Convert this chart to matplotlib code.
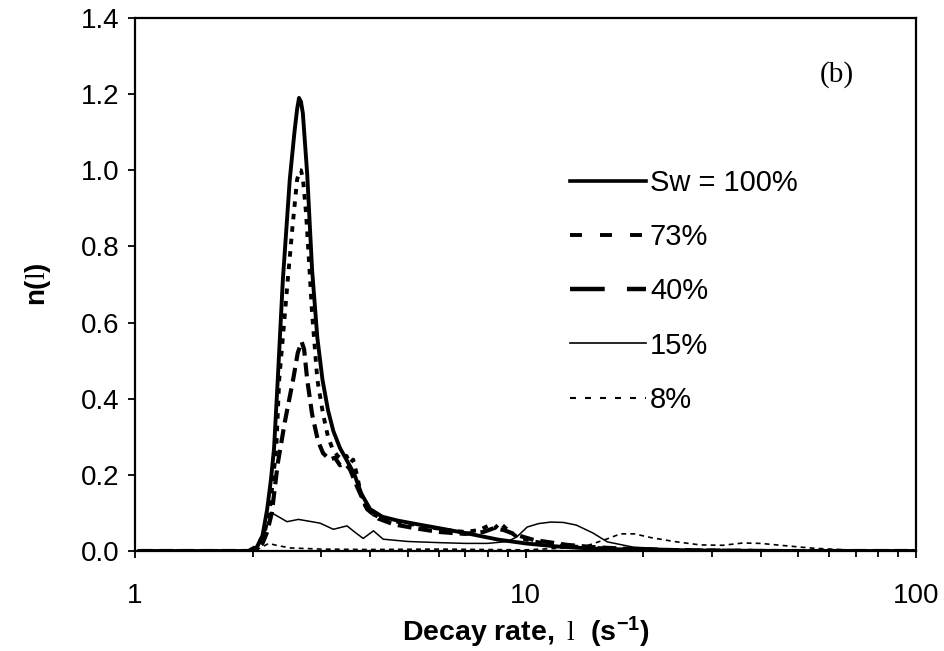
import matplotlib
matplotlib.use("Agg")
import matplotlib.pyplot as plt
from matplotlib.lines import Line2D
from matplotlib.ticker import FixedLocator, FixedFormatter, LogLocator, NullFormatter

plt.rcParams['font.family'] = ['Liberation Sans', 'DejaVu Sans']
plt.rcParams['mathtext.fontset'] = 'custom'
plt.rcParams['mathtext.rm'] = 'Liberation Serif'
plt.rcParams['mathtext.bf'] = 'Liberation Sans:bold'
plt.rcParams['mathtext.it'] = 'Liberation Sans:italic'
plt.rcParams['lines.scale_dashes'] = False

# ---------------- data ----------------
sw100_x = [1.02, 1.5, 1.95, 2.05, 2.12, 2.18, 2.23, 2.27, 2.32, 2.39, 2.49, 2.56, 2.60, 2.63, 2.66,
           2.69, 2.76, 2.84, 2.93, 3.02, 3.12, 3.22, 3.35, 3.5, 3.65, 3.8, 4.0, 4.3, 4.7, 5.3, 6.0,
           7.2, 8.5, 10.0, 12.0, 15.0, 20.0, 30.0, 50.0, 100.0]
sw100_y = [0, 0, 0, 0.01, 0.04, 0.11, 0.19, 0.27, 0.45, 0.71, 0.975, 1.10, 1.16, 1.19, 1.18,
           1.15, 0.99, 0.74, 0.56, 0.45, 0.37, 0.315, 0.27, 0.235, 0.20, 0.15, 0.11, 0.09, 0.08,
           0.07, 0.06, 0.045, 0.03, 0.02, 0.012, 0.006, 0.003, 0.001, 0.0, 0.0]

sw73_x = [1.02, 1.5, 1.95, 2.03, 2.10, 2.15, 2.22, 2.30, 2.34, 2.40, 2.46, 2.53, 2.60, 2.64, 2.66,
          2.69, 2.74, 2.79, 2.84, 2.93, 3.03, 3.12, 3.20, 3.30, 3.40, 3.48, 3.55, 3.62, 3.70, 3.77,
          3.88, 4.0, 4.3, 4.8, 5.5, 6.3, 7.0, 7.6, 8.1, 8.35, 8.6, 8.9, 9.5, 10.5, 12.0, 15.0,
          20.0, 30.0, 50.0, 100.0]
sw73_y = [0, 0, 0, 0.01, 0.03, 0.05, 0.12, 0.27, 0.45, 0.58, 0.71, 0.85, 0.975, 1.0, 1.0,
          0.98, 0.89, 0.76, 0.625, 0.45, 0.36, 0.30, 0.27, 0.25, 0.24, 0.25, 0.23, 0.24, 0.20, 0.16,
          0.12, 0.10, 0.085, 0.075, 0.065, 0.055, 0.05, 0.055, 0.068, 0.06, 0.074, 0.06, 0.037,
          0.025, 0.015, 0.008, 0.004, 0.001, 0, 0]

sw40_x = [1.02, 1.5, 1.95, 2.05, 2.12, 2.18, 2.24, 2.32, 2.42, 2.54, 2.61, 2.67, 2.71, 2.76, 2.84,
          2.94, 3.03, 3.15, 3.25, 3.35, 3.45, 3.55, 3.70, 3.93, 4.2, 4.6, 5.2, 6.0, 7.0, 7.8, 8.3,
          8.8, 9.5, 10.5, 12.8, 15.0, 18.0, 25.0, 40.0, 100.0]
sw40_y = [0, 0, 0, 0.005, 0.02, 0.05, 0.10, 0.23, 0.34, 0.45, 0.52, 0.55, 0.53, 0.45, 0.36,
          0.29, 0.257, 0.24, 0.245, 0.225, 0.23, 0.215, 0.17, 0.11, 0.085, 0.07, 0.06, 0.05, 0.045,
          0.05, 0.06, 0.055, 0.042, 0.029, 0.016, 0.01, 0.006, 0.002, 0, 0]

sw15_x = [1.02, 1.5, 1.95, 2.05, 2.12, 2.18, 2.24, 2.33, 2.45, 2.62, 2.80, 2.98, 3.22, 3.49, 3.65,
          3.84, 4.08, 4.32, 5.0, 6.0, 7.0, 8.0, 9.0, 9.5, 10.1, 10.8, 11.6, 12.5, 13.5, 14.9, 16.2,
          18.9, 25.0, 40.0, 100.0]
sw15_y = [0, 0, 0, 0.005, 0.03, 0.07, 0.10, 0.09, 0.077, 0.083, 0.078, 0.073, 0.057, 0.066, 0.05,
          0.033, 0.053, 0.031, 0.025, 0.022, 0.02, 0.02, 0.025, 0.037, 0.063, 0.072, 0.076, 0.075,
          0.068, 0.047, 0.024, 0.01, 0.004, 0.001, 0]

sw8_x = [1.02, 1.9, 2.05, 2.2, 2.3, 2.5, 3.0, 4.0, 6.0, 10.0, 14.0, 16.0, 17.5, 19.0, 21.0, 24.0,
         28.0, 32.0, 36.0, 40.0, 45.0, 55.0, 70.0, 100.0]
sw8_y = [0, 0, 0.003, 0.02, 0.015, 0.008, 0.005, 0.004, 0.005, 0.003, 0.01, 0.03, 0.045, 0.045,
         0.035, 0.025, 0.016, 0.015, 0.021, 0.02, 0.015, 0.007, 0.002, 0]

labels = ["Sw = 100%", "73%", "40%", "15%", "8%"]
y_ticks = [0.0, 0.2, 0.4, 0.6, 0.8, 1.0, 1.2, 1.4]
x_ticks = [1, 10, 100]
x_tick_labels = ["1", "10", "100"]

# ---------------- figure ----------------
fig = plt.figure(figsize=(9.45, 6.51), dpi=100)
ax = fig.add_axes([0.1429, 0.1536, 0.8264, 0.8188])

ax.plot(sw100_x, sw100_y, color='black', lw=2.8, solid_capstyle='round', zorder=5)
ax.plot(sw73_x, sw73_y, color='black', lw=2.8, dashes=(4.0, 5.0), dash_capstyle='butt', zorder=4)
ax.plot(sw40_x, sw40_y, color='black', lw=3.0, dashes=(10.0, 5.0), zorder=3)
ax.plot(sw15_x, sw15_y, color='black', lw=1.1, zorder=2)
ax.plot(sw8_x, sw8_y, color='black', lw=1.2, dashes=(3.5, 3.0), zorder=1)

ax.set_xscale('log')
ax.set_xlim(1, 100)
ax.set_ylim(0, 1.4)

ax.xaxis.set_major_locator(FixedLocator(x_ticks))
ax.xaxis.set_major_formatter(FixedFormatter(x_tick_labels))
ax.xaxis.set_minor_locator(LogLocator(base=10, subs=[2, 3, 4, 5, 6, 7, 8, 9]))
ax.xaxis.set_minor_formatter(NullFormatter())
ax.set_yticks(y_ticks)
ax.set_yticklabels([f"{v:.1f}" for v in y_ticks])

ax.tick_params(axis='both', which='major', direction='out', length=5, width=1.3,
               labelsize=20, colors='black')
ax.tick_params(axis='x', which='minor', direction='out', length=4.5, width=1.3)
ax.tick_params(axis='y', which='major', pad=6)
ax.tick_params(axis='x', which='major', pad=18)
for s in ax.spines.values():
    s.set_linewidth(1.6)
    s.set_color('black')

ax.set_ylabel(r'$\mathbf{n(}\mathrm{l}\mathbf{)}$', fontsize=20, labelpad=20)
ax.set_xlabel(r'$\mathbf{Decay\ rate,}\ \mathrm{l}\ \ \mathbf{(s^{-1})}$', fontsize=20.5, labelpad=4)

ax.text(0.898, 0.893, '(b)', transform=ax.transAxes, fontsize=21,
        family='Liberation Serif', ha='center', va='center')

handles = [
    Line2D([], [], color='black', lw=2.6),
    Line2D([], [], color='black', lw=2.8, dashes=(8.6, 13.0)),
    Line2D([], [], color='black', lw=3.2, dashes=(25.0, 16.0)),
    Line2D([], [], color='black', lw=1.2),
    Line2D([], [], color='black', lw=1.5, dashes=(4.3, 6.5)),
]
ax.legend(handles, labels, loc='upper left', bbox_to_anchor=(0.557, 0.717),
          frameon=False, fontsize=21, handlelength=2.6, handletextpad=0.14,
          labelspacing=0.90, borderpad=0, borderaxespad=0)

fig.savefig('out.png', dpi=100)
